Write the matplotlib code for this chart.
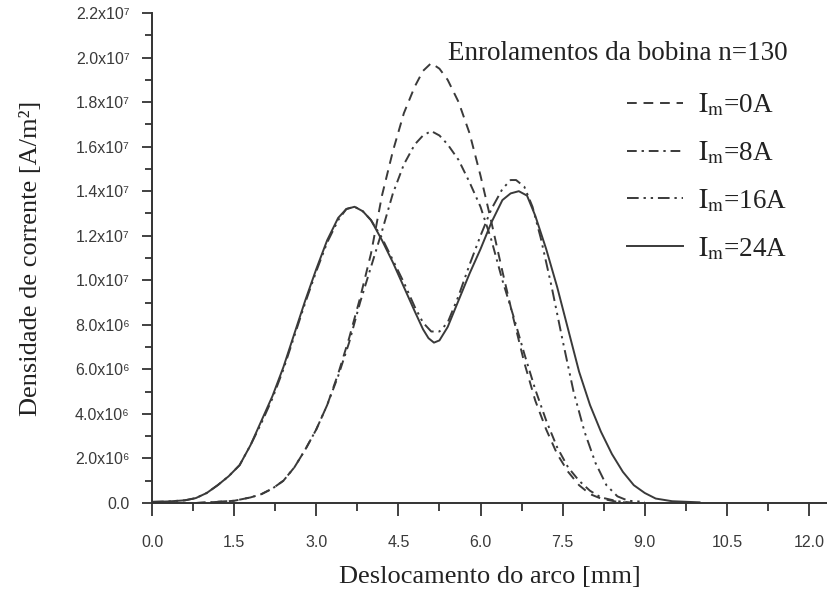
import matplotlib
matplotlib.use("Agg")
import matplotlib.pyplot as plt
from matplotlib.ticker import MultipleLocator, FixedLocator

plt.rcParams["mathtext.fontset"] = "stix"

# Current density along the arc, in units of 1e7 A/m^2
x_0a = [0.8, 1.2, 1.5, 1.8, 2.0, 2.2, 2.4, 2.6, 2.8, 3.0, 3.2, 3.4, 3.6, 3.8, 4.0, 4.2, 4.4,
        4.6, 4.8, 4.95, 5.1, 5.25, 5.4, 5.6, 5.8, 6.0, 6.2, 6.4, 6.6, 6.8, 7.0, 7.2, 7.4,
        7.6, 7.8, 8.0, 8.2, 8.5, 8.8]
j_0a = [0.0, 0.005, 0.01, 0.025, 0.04, 0.065, 0.10, 0.16, 0.24, 0.33, 0.44, 0.58, 0.74, 0.92,
        1.12, 1.38, 1.58, 1.75, 1.87, 1.94, 1.975, 1.95, 1.90, 1.80, 1.66, 1.47, 1.26, 1.04,
        0.83, 0.63, 0.46, 0.33, 0.22, 0.14, 0.08, 0.04, 0.02, 0.005, 0.0]

x_8a = [0.8, 1.5, 1.8, 2.0, 2.2, 2.4, 2.6, 2.8, 3.0, 3.2, 3.4, 3.6, 3.8, 4.0, 4.2, 4.4, 4.6,
        4.8, 4.95, 5.1, 5.25, 5.4, 5.6, 5.8, 6.0, 6.2, 6.4, 6.6, 6.8, 7.0, 7.2, 7.4, 7.6,
        7.8, 8.0, 8.2, 8.5, 8.8]
j_8a = [0.0, 0.01, 0.025, 0.04, 0.065, 0.10, 0.16, 0.24, 0.33, 0.44, 0.57, 0.72, 0.90, 1.06,
        1.22, 1.39, 1.52, 1.61, 1.65, 1.67, 1.65, 1.61, 1.54, 1.44, 1.33, 1.18, 1.00, 0.84,
        0.67, 0.51, 0.37, 0.25, 0.16, 0.10, 0.055, 0.025, 0.008, 0.0]

x_16a = [0.0, 0.3, 0.6, 0.8, 1.0, 1.2, 1.4, 1.6, 1.8, 2.0, 2.2, 2.4, 2.6, 2.8, 3.0, 3.2, 3.4,
         3.55, 3.7, 3.85, 4.0, 4.2, 4.4, 4.6, 4.8, 4.95, 5.1, 5.25, 5.4, 5.6, 5.8, 6.0, 6.2,
         6.4, 6.55, 6.65, 6.8, 6.95, 7.1, 7.3, 7.5, 7.7, 7.9, 8.1, 8.3, 8.5, 8.7, 9.0]
j_16a = [0.005, 0.007, 0.012, 0.022, 0.045, 0.08, 0.12, 0.17, 0.26, 0.36, 0.47, 0.60, 0.75,
         0.90, 1.04, 1.17, 1.27, 1.32, 1.33, 1.31, 1.27, 1.19, 1.09, 0.99, 0.88, 0.81, 0.77,
         0.77, 0.81, 0.93, 1.07, 1.20, 1.32, 1.41, 1.45, 1.45, 1.42, 1.33, 1.19, 0.97, 0.73,
         0.50, 0.32, 0.18, 0.08, 0.03, 0.01, 0.005]

x_24a = [0.0, 0.3, 0.6, 0.8, 1.0, 1.2, 1.4, 1.6, 1.8, 2.0, 2.2, 2.4, 2.6, 2.8, 3.0, 3.2, 3.4,
         3.55, 3.7, 3.85, 4.0, 4.2, 4.4, 4.6, 4.8, 4.95, 5.05, 5.15, 5.25, 5.4, 5.6, 5.8, 6.0,
         6.2, 6.4, 6.55, 6.7, 6.85, 7.0, 7.2, 7.4, 7.6, 7.8, 8.0, 8.2, 8.4, 8.6, 8.8, 9.0,
         9.2, 9.5, 10.0]
j_24a = [0.005, 0.007, 0.012, 0.022, 0.045, 0.08, 0.12, 0.17, 0.26, 0.37, 0.48, 0.61, 0.76,
         0.91, 1.05, 1.18, 1.28, 1.32, 1.33, 1.31, 1.27, 1.18, 1.08, 0.97, 0.86, 0.78, 0.74,
         0.72, 0.73, 0.79, 0.91, 1.03, 1.14, 1.26, 1.36, 1.39, 1.40, 1.38, 1.29, 1.14, 0.97,
         0.78, 0.59, 0.44, 0.32, 0.22, 0.14, 0.08, 0.045, 0.02, 0.008, 0.003]

series_labels = [r"$\mathrm{I_m}$=0A", r"$\mathrm{I_m}$=8A",
                 r"$\mathrm{I_m}$=16A", r"$\mathrm{I_m}$=24A"]

y_ticks = [0.0, 0.2, 0.4, 0.6, 0.8, 1.0, 1.2, 1.4, 1.6, 1.8, 2.0, 2.2]
y_tick_labels = ["0.0", "2.0x10\u2076", "4.0x10\u2076", "6.0x10\u2076", "8.0x10\u2076",
                 "1.0x10\u2077", "1.2x10\u2077", "1.4x10\u2077", "1.6x10\u2077",
                 "1.8x10\u2077", "2.0x10\u2077", "2.2x10\u2077"]
x_ticks = [0.0, 1.5, 3.0, 4.5, 6.0, 7.5, 9.0, 10.5, 12.0]
x_tick_labels = ["0.0", "1.5", "3.0", "4.5", "6.0", "7.5", "9.0", "10.5", "12.0"]

line_color = "#3a3a3a"
serif = ["Liberation Serif", "DejaVu Serif"]
sans = ["Liberation Sans", "DejaVu Sans"]

fig = plt.figure(figsize=(8.27, 6.06), dpi=100)
ax = fig.add_axes([152 / 827, 103 / 606, 675 / 827, 490 / 606])

styles = [(0, (5, 3.5)), (0, (5, 2.5, 1.2, 2.5)), (0, (6, 2.5, 1.2, 2.5, 1.2, 2.5)), "-"]
for xs, js, ls, lab in zip([x_0a, x_8a, x_16a, x_24a], [j_0a, j_8a, j_16a, j_24a],
                           styles, series_labels):
    ax.plot(xs, js, color=line_color, lw=1.4, linestyle=ls, label=lab)

ax.set_xlim(0, 675 / 54.75)
ax.set_ylim(0, 2.2)

for side in ("top", "right"):
    ax.spines[side].set_visible(False)
for side in ("left", "bottom"):
    ax.spines[side].set_color("#333333")
    ax.spines[side].set_linewidth(1.4)

ax.xaxis.set_major_locator(FixedLocator(x_ticks))
ax.xaxis.set_minor_locator(MultipleLocator(0.75))
ax.set_xticklabels(x_tick_labels)
ax.yaxis.set_major_locator(FixedLocator(y_ticks))
ax.yaxis.set_minor_locator(MultipleLocator(0.1))
ax.set_yticklabels(y_tick_labels)

ax.tick_params(axis="both", which="both", direction="out", color="#333333", width=1.3)
ax.tick_params(axis="x", which="major", length=9, pad=14)
ax.tick_params(axis="x", which="minor", length=6)
ax.tick_params(axis="y", which="major", length=7, pad=9)
ax.tick_params(axis="y", which="minor", length=5)
for t in ax.get_xticklabels() + ax.get_yticklabels():
    t.set_family(sans)
    t.set_fontsize(11.5)
    t.set_color("#3a3a3a")

ax.set_xlabel("Deslocamento do arco [mm]", family=serif, fontsize=19, color="#222222")
ax.xaxis.set_label_coords(0.5, -0.128)
ax.set_ylabel("Densidade de corrente [A/m\u00b2]", family=serif, fontsize=19,
              color="#222222")
ax.yaxis.set_label_coords(-0.163, 0.5)

fig.text(448 / 827, 1 - 54 / 606, "Enrolamentos da bobina n=130", family=serif,
         fontsize=19.5, color="#222222", ha="left", va="center")

leg = ax.legend(loc="upper left", bbox_to_anchor=(613 / 827, 1 - 78 / 606),
                bbox_transform=fig.transFigure, frameon=False, handlelength=2.1,
                handletextpad=0.55, labelspacing=0.77, borderpad=0.0,
                prop={"family": serif, "size": 19.5})
for t in leg.get_texts():
    t.set_color("#222222")

fig.savefig("out.png", dpi=100, facecolor="white")
